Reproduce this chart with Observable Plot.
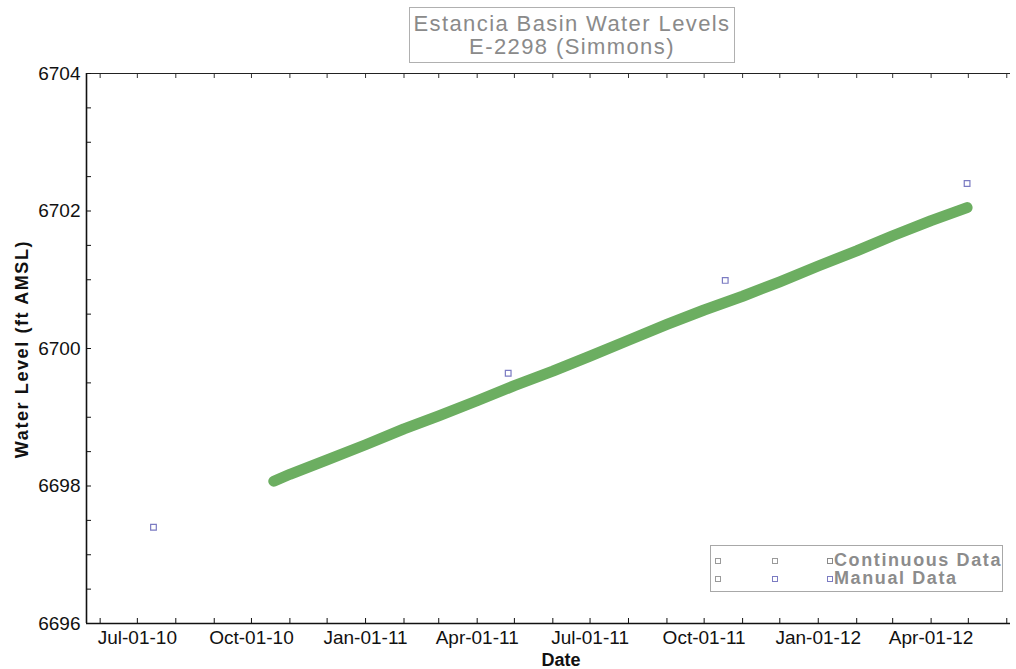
<!DOCTYPE html>
<html>
<head>
<meta charset="utf-8">
<script src="https://cdn.jsdelivr.net/npm/d3@7"></script>
<script src="https://cdn.jsdelivr.net/npm/@observablehq/plot@0.6"></script>
<style>
  body { margin: 0; background: #fff; }
  #wrap { position: relative; width: 1016px; height: 669px; font-family: "Liberation Sans", Arial, sans-serif; overflow: hidden; }
  #chart { position: absolute; left: 0; top: 0; }
  .ov { position: absolute; white-space: nowrap; }
  #title { left: 409px; top: 7px; width: 326px; height: 56px; border: 1px solid #b0b0b0; color: #8a8a8a;
           font-size: 22px; line-height: 23px; text-align: center; letter-spacing: 1.4px; box-sizing: border-box; padding-top: 4px; }
  #ylab { left: 22px; top: 349px; transform: translate(-50%, -50%) rotate(-90deg); font-weight: bold; font-size: 18px; letter-spacing: 1.6px; color: #111; }
  #xlab { left: 561px; top: 660px; transform: translate(-50%, -50%); font-weight: bold; font-size: 18px; color: #111; }
  #legend { left: 710px; top: 545px; width: 293px; height: 47px; border: 1px solid #a8a8a8; box-sizing: border-box; }
  .lrow { position: absolute; left: 0; height: 18px; width: 100%; }
  .sq { position: absolute; width: 4px; height: 4px; border: 1px solid #9a9a9a; top: 6px; }
  .lt { position: absolute; left: 123px; top: -2px; font-size: 18px; font-weight: bold; color: #8c8c8c; letter-spacing: 1.6px; }
</style>
</head>
<body>
<div id="wrap">
  <div id="chart"></div>
  <div class="ov" id="title">Estancia Basin Water Levels<br>E-2298 (Simmons)</div>
  <div class="ov" id="ylab">Water Level (ft AMSL)</div>
  <div class="ov" id="xlab">Date</div>
  <div class="ov" id="legend"></div>
</div>
<script>
// Continuous record
const contDates = ["2010-10-19","2010-11-01","2010-12-01","2011-01-01","2011-02-01","2011-03-01","2011-04-01",
  "2011-05-01","2011-06-01","2011-07-01","2011-08-01","2011-09-01","2011-10-01","2011-11-01","2011-12-01",
  "2012-01-01","2012-02-01","2012-03-01","2012-04-01","2012-04-30"];
const contLevels = [6698.07,6698.17,6698.38,6698.60,6698.83,6699.02,6699.24,
  6699.46,6699.67,6699.89,6700.12,6700.35,6700.56,6700.76,6700.97,
  6701.20,6701.42,6701.64,6701.86,6702.05];

// Manual measurements
const manualDates = ["2010-07-14","2011-04-26","2011-10-18","2012-04-30"];
const manualLevels = [6697.40,6699.64,6700.99,6702.40];

// Axis ticks
const xTickDates = ["2010-07-01","2010-10-01","2011-01-01","2011-04-01","2011-07-01","2011-10-01","2012-01-01","2012-04-01"];
const yTickValues = [6696,6698,6700,6702,6704];
const xDomain = ["2010-05-21","2012-06-04"];
const yDomain = [6696,6704];
const legendLabels = ["Continuous Data","Manual Data"];

const parse = d3.utcParse("%Y-%m-%d");
const cont = contDates.map((d,i) => ({date: parse(d), level: contLevels[i]}));
const manual = manualDates.map((d,i) => ({date: parse(d), level: manualLevels[i]}));
const xd = xDomain.map(parse);
const majorX = xTickDates.map(parse);
const minorX = d3.utcMonth.range(xd[0], xd[1]);
const minorY = d3.range(yDomain[0], yDomain[1] + 0.001, 0.5);
const fmt = d3.utcFormat("%b-%d-%y");

const chart = Plot.plot({
  width: 1016,
  height: 669,
  marginLeft: 86,
  marginRight: 6,
  marginTop: 73,
  marginBottom: 46,
  style: {fontFamily: "'Liberation Sans', Arial, sans-serif", fontSize: "19px", color: "#111", background: "#fff"},
  x: {type: "utc", domain: xd},
  y: {domain: yDomain},
  marks: [
    Plot.line(cont, {x: "date", y: "level", stroke: "#6cae61", strokeWidth: 11, strokeLinecap: "round", strokeLinejoin: "round"}),
    Plot.dot(manual, {x: "date", y: "level", symbol: "square", r: 3.2, stroke: "#7b7bc2", fill: "none", strokeWidth: 1.2}),
    // frame lines
    Plot.ruleY([yDomain[0]], {stroke: "#111", strokeWidth: 1.6}),
    Plot.ruleY([yDomain[1]], {stroke: "#222", strokeWidth: 1.2}),
    Plot.ruleX([xd[0]], {stroke: "#111", strokeWidth: 1.6}),
    // minor ticks (inward)
    Plot.axisX(minorX, {anchor: "bottom", tickSize: 5, dy: -5, tickFormat: () => "", label: null, stroke: "#111"}),
    Plot.axisX(minorX, {anchor: "top", tickSize: 4, dy: 4, tickFormat: () => "", label: null, stroke: "#333"}),
    Plot.axisY(minorY, {anchor: "left", tickSize: 5, dx: 5, tickFormat: () => "", label: null, stroke: "#111"}),
    // labels
    Plot.axisX(majorX, {anchor: "bottom", tickSize: 0, tickPadding: 7, tickFormat: fmt, label: null, fontSize: 19}),
    Plot.axisY(yTickValues, {anchor: "left", tickSize: 0, tickPadding: 6, tickFormat: d => String(d), label: null, fontSize: 19})
  ]
});
document.getElementById("chart").appendChild(chart);

// legend
const lg = document.getElementById("legend");
legendLabels.forEach((t, i) => {
  const row = document.createElement("div");
  row.className = "lrow";
  row.style.top = (6 + i * 18) + "px";
  [4, 61, 116].forEach((x, j) => {
    const s = document.createElement("span");
    s.className = "sq";
    s.style.left = x + "px";
    if (j === 1 && i === 1) s.style.borderColor = "#7b7bc2";
    if (j === 2) s.style.borderColor = i === 0 ? "#8a8a8a" : "#7b7bc2";
    row.appendChild(s);
  });
  const lt = document.createElement("span");
  lt.className = "lt";
  lt.textContent = t;
  row.appendChild(lt);
  lg.appendChild(row);
});
</script>
</body>
</html>
